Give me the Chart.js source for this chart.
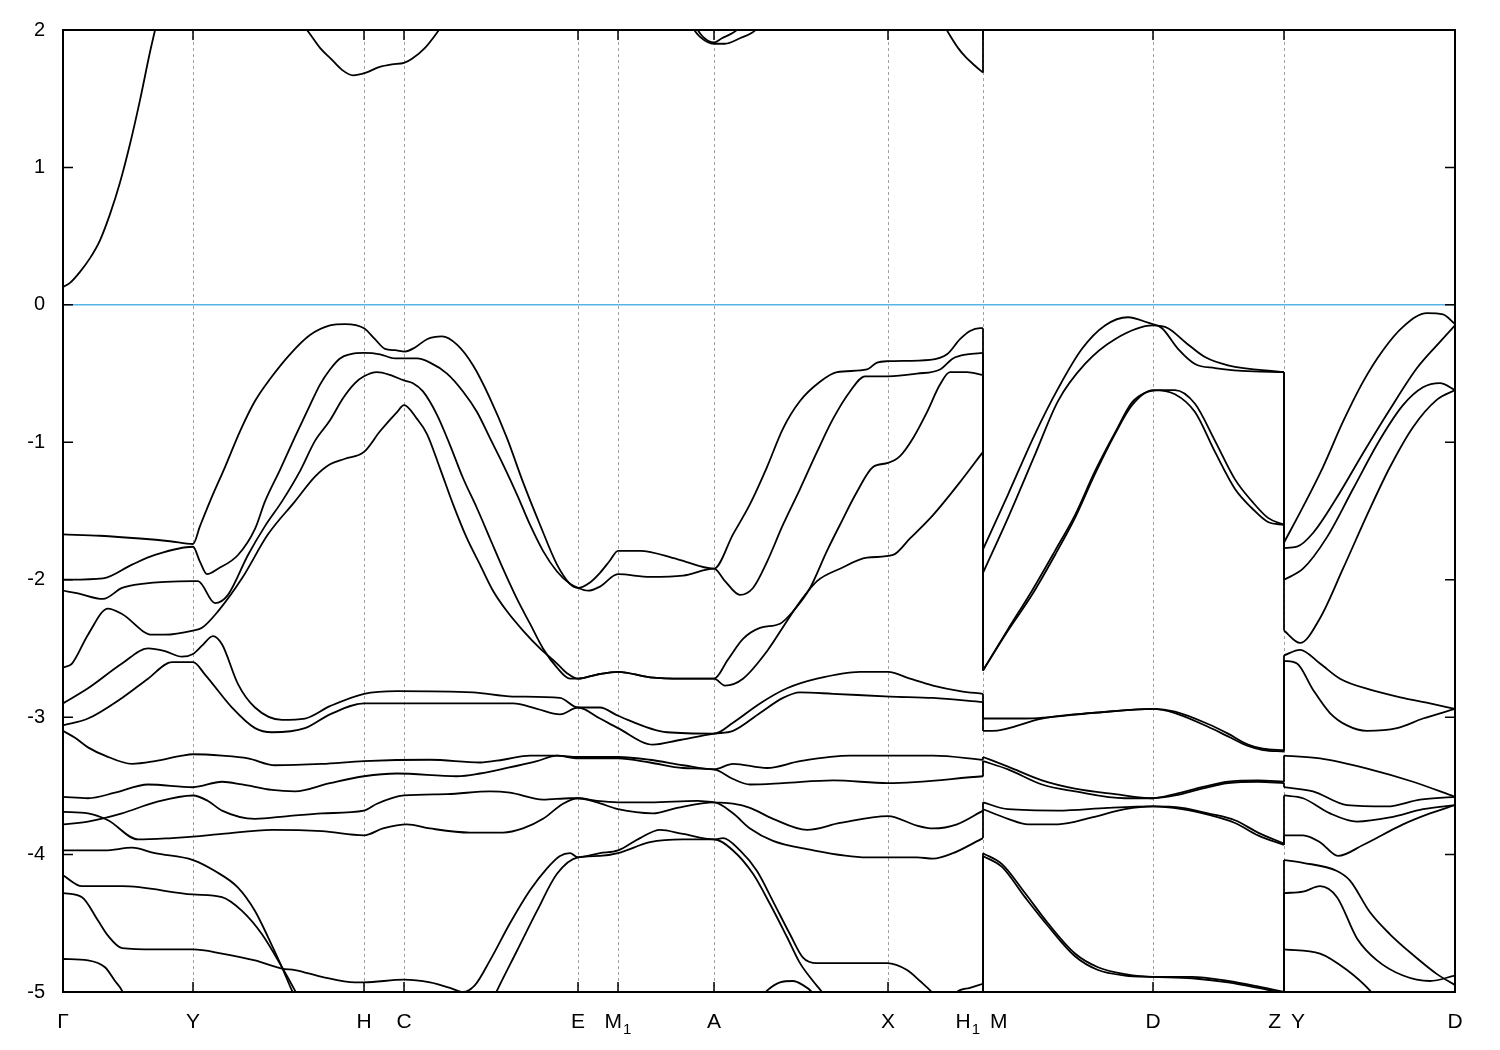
<!DOCTYPE html>
<html>
<head>
<meta charset="utf-8">
<title>Band structure</title>
<script src="https://cdn.jsdelivr.net/npm/chart.js@4.4.1/dist/chart.umd.min.js"></script>
<style>
  html, body { margin: 0; padding: 0; background: #ffffff; }
  #wrap { width: 1500px; height: 1050px; }
</style>
</head>
<body>
<div id="wrap"><canvas id="bands" width="1500" height="1050"></canvas></div>
<script>
// High-symmetry points along the k path
var kTicks = [0, 1.30, 3.01, 3.41, 5.15, 5.55, 6.51, 8.25, 9.20, 10.90, 12.21, 13.92];
var kLabels = [
  ['\u0393', '', 0, 'c'], ['Y', '', 1.30, 'c'], ['H', '', 3.01, 'c'], ['C', '', 3.41, 'c'],
  ['E', '', 5.15, 'c'], ['M', '1', 5.55, 'c'], ['A', '', 6.51, 'c'], ['X', '', 8.25, 'c'],
  ['H', '1', 9.20, 'r'], ['M', '', 9.20, 'l'], ['D', '', 10.90, 'c'],
  ['Z', '', 12.21, 'r'], ['Y', '', 12.21, 'l'], ['D', '', 13.92, 'c']
];
var energyTicks = [-5, -4, -3, -2, -1, 0, 1, 2];
var fermiLevel = 0;

// Conduction bands (Gamma ... H1 segment), [k, E]
var c1 = [[0,0.13],[0.07,0.16],[0.17,0.24],[0.27,0.34],[0.37,0.47],[0.47,0.66],[0.57,0.89],[0.67,1.17],[0.77,1.49],[0.87,1.84],[0.94,2.06]];
var c2 = [[2.37,2.06],[2.44,2.0],[2.57,1.87],[2.68,1.79],[2.79,1.71],[2.90,1.67],[3.03,1.69],[3.16,1.73],[3.29,1.75],[3.41,1.76],[3.49,1.79],[3.62,1.87],[3.76,2.0],[3.82,2.06]];
var c3a = [[6.27,2.04],[6.37,1.95],[6.51,1.90],[6.62,1.90],[6.77,1.94],[6.89,1.98],[6.99,2.04]];
var c3b = [[6.31,2.04],[6.40,1.95],[6.51,1.91],[6.59,1.94],[6.70,1.98],[6.81,2.04]];
var c4 = [[8.79,2.06],[8.87,1.96],[8.95,1.87],[9.03,1.80],[9.12,1.74],[9.20,1.69]];
var c4_2 = [[9.20,2.30]]; // same band at M lies above the window

// Valence bands, segment Gamma - Y - H - C - E - M1 - A - X - H1
var v1_1 = [[0,-1.67],[0.37,-1.68],[0.77,-1.70],[1.07,-1.72],[1.30,-1.74],[1.37,-1.61],[1.47,-1.43],[1.62,-1.18],[1.77,-0.92],[1.92,-0.70],[2.07,-0.54],[2.27,-0.36],[2.47,-0.22],[2.67,-0.15],[2.82,-0.14],[3.01,-0.17],[3.12,-0.25],[3.22,-0.32],[3.32,-0.33],[3.42,-0.34],[3.52,-0.31],[3.64,-0.25],[3.79,-0.23],[3.94,-0.29],[4.10,-0.44],[4.27,-0.68],[4.44,-0.97],[4.60,-1.29],[4.77,-1.60],[4.94,-1.89],[5.07,-2.03],[5.15,-2.06],[5.27,-2.02],[5.37,-1.95],[5.47,-1.86],[5.55,-1.79],[5.77,-1.79],[6.14,-1.85],[6.51,-1.92],[6.70,-1.67],[6.87,-1.45],[7.04,-1.18],[7.20,-0.90],[7.37,-0.70],[7.57,-0.56],[7.74,-0.49],[8.04,-0.47],[8.14,-0.42],[8.25,-0.41],[8.67,-0.40],[8.84,-0.36],[8.97,-0.25],[9.07,-0.19],[9.17,-0.17],[9.20,-0.17]];
var v2_1 = [[0,-2.00],[0.40,-1.99],[0.69,-1.89],[0.92,-1.82],[1.30,-1.76],[1.37,-1.87],[1.44,-1.96],[1.55,-1.92],[1.75,-1.82],[1.92,-1.63],[2.02,-1.43],[2.17,-1.20],[2.32,-0.96],[2.47,-0.73],[2.57,-0.58],[2.67,-0.47],[2.77,-0.39],[2.87,-0.36],[3.01,-0.35],[3.17,-0.36],[3.32,-0.39],[3.54,-0.39],[3.67,-0.42],[3.84,-0.50],[4.00,-0.63],[4.14,-0.78],[4.27,-0.97],[4.40,-1.16],[4.54,-1.38],[4.67,-1.60],[4.80,-1.79],[4.94,-1.94],[5.07,-2.03],[5.15,-2.06],[5.25,-2.08],[5.37,-2.05],[5.55,-1.96],[5.87,-1.98],[6.20,-1.97],[6.51,-1.92],[6.62,-2.01],[6.77,-2.11],[6.90,-2.06],[7.04,-1.87],[7.20,-1.60],[7.37,-1.34],[7.54,-1.07],[7.70,-0.83],[7.87,-0.63],[8.02,-0.52],[8.25,-0.52],[8.54,-0.50],[8.77,-0.47],[8.90,-0.39],[9.04,-0.36],[9.20,-0.35]];
var v3_1 = [[0,-2.08],[0.15,-2.10],[0.40,-2.14],[0.59,-2.06],[0.79,-2.03],[1.30,-2.01],[1.35,-2.01],[1.52,-2.17],[1.65,-2.11],[1.85,-1.82],[2.02,-1.61],[2.19,-1.43],[2.37,-1.21],[2.52,-0.99],[2.67,-0.84],[2.80,-0.68],[2.92,-0.57],[3.01,-0.52],[3.14,-0.49],[3.27,-0.51],[3.41,-0.55],[3.50,-0.57],[3.60,-0.63],[3.74,-0.80],[3.87,-1.02],[4.00,-1.26],[4.14,-1.48],[4.27,-1.70],[4.40,-1.92],[4.54,-2.14],[4.67,-2.32],[4.80,-2.50],[4.94,-2.64],[5.07,-2.72],[5.15,-2.72],[5.34,-2.69],[5.55,-2.67],[5.87,-2.71],[6.20,-2.72],[6.51,-2.72],[6.65,-2.58],[6.80,-2.43],[6.97,-2.35],[7.17,-2.32],[7.30,-2.23],[7.47,-2.06],[7.64,-1.79],[7.77,-1.60],[7.94,-1.36],[8.10,-1.18],[8.25,-1.15],[8.37,-1.10],[8.50,-0.97],[8.64,-0.78],[8.77,-0.58],[8.87,-0.49],[9.04,-0.49],[9.20,-0.51]];
var v4_1 = [[0,-2.64],[0.09,-2.61],[0.25,-2.40],[0.45,-2.21],[0.59,-2.25],[0.89,-2.40],[1.02,-2.40],[1.30,-2.37],[1.39,-2.35],[1.55,-2.23],[1.79,-1.99],[2.05,-1.67],[2.32,-1.43],[2.52,-1.25],[2.67,-1.16],[2.82,-1.12],[3.01,-1.07],[3.17,-0.92],[3.34,-0.78],[3.41,-0.73],[3.54,-0.83],[3.64,-0.94],[3.77,-1.19],[3.90,-1.45],[4.04,-1.70],[4.17,-1.89],[4.30,-2.08],[4.44,-2.23],[4.60,-2.37],[4.77,-2.50],[4.94,-2.61],[5.04,-2.68],[5.15,-2.72],[5.34,-2.69],[5.55,-2.67],[5.87,-2.71],[6.20,-2.72],[6.51,-2.72],[6.62,-2.77],[6.80,-2.72],[7.04,-2.52],[7.24,-2.30],[7.37,-2.16],[7.54,-2.01],[7.77,-1.92],[8.04,-1.84],[8.30,-1.82],[8.47,-1.70],[8.70,-1.53],[8.97,-1.29],[9.20,-1.07]];
var v5_1 = [[0,-2.90],[0.25,-2.79],[0.59,-2.61],[0.85,-2.50],[1.02,-2.52],[1.19,-2.56],[1.30,-2.54],[1.39,-2.48],[1.50,-2.41],[1.59,-2.47],[1.75,-2.76],[1.92,-2.93],[2.19,-3.02],[2.42,-3.01],[2.67,-2.92],[3.01,-2.83],[3.34,-2.81],[4.10,-2.82],[4.50,-2.85],[4.97,-2.86],[5.15,-2.93],[5.37,-2.93],[5.55,-2.99],[6.04,-3.11],[6.51,-3.12],[6.70,-3.04],[6.97,-2.90],[7.24,-2.79],[7.54,-2.72],[7.97,-2.67],[8.25,-2.67],[8.47,-2.72],[8.70,-2.77],[8.97,-2.81],[9.20,-2.83]];
var v6_1 = [[0,-3.06],[0.25,-3.01],[0.59,-2.86],[0.85,-2.72],[1.09,-2.60],[1.30,-2.60],[1.42,-2.69],[1.69,-2.93],[1.92,-3.08],[2.09,-3.11],[2.42,-3.08],[2.67,-2.98],[3.01,-2.90],[3.34,-2.90],[4.50,-2.90],[4.74,-2.94],[4.97,-2.98],[5.15,-2.93],[5.37,-3.01],[5.55,-3.08],[5.90,-3.20],[6.14,-3.17],[6.51,-3.12],[6.70,-3.10],[6.97,-2.97],[7.20,-2.86],[7.37,-2.82],[7.70,-2.83],[8.27,-2.85],[8.70,-2.86],[9.20,-2.89]];
var v7_1 = [[0,-3.10],[0.12,-3.15],[0.25,-3.22],[0.42,-3.28],[0.69,-3.34],[0.92,-3.32],[1.19,-3.28],[1.30,-3.27],[1.59,-3.28],[1.85,-3.30],[2.12,-3.35],[2.59,-3.34],[3.01,-3.32],[3.67,-3.31],[4.17,-3.33],[4.40,-3.31],[4.67,-3.28],[4.94,-3.28],[5.15,-3.29],[5.55,-3.29],[5.87,-3.31],[6.20,-3.35],[6.51,-3.38],[6.70,-3.34],[7.04,-3.37],[7.37,-3.32],[7.87,-3.28],[8.70,-3.28],[9.20,-3.31]];
var v8_1 = [[0,-3.58],[0.25,-3.59],[0.52,-3.55],[0.85,-3.49],[1.30,-3.51],[1.59,-3.47],[1.79,-3.49],[2.09,-3.53],[2.32,-3.54],[2.67,-3.48],[3.01,-3.43],[3.34,-3.41],[3.94,-3.43],[4.17,-3.41],[4.44,-3.37],[4.74,-3.32],[4.94,-3.28],[5.15,-3.30],[5.55,-3.30],[5.87,-3.33],[6.20,-3.37],[6.51,-3.38],[6.70,-3.45],[6.87,-3.49],[7.20,-3.48],[7.70,-3.46],[8.25,-3.48],[9.20,-3.43]];
var v9b_1 = [[0,-3.78],[0.25,-3.76],[0.59,-3.70],[0.92,-3.62],[1.30,-3.57],[1.45,-3.61],[1.59,-3.68],[1.92,-3.74],[2.25,-3.72],[2.59,-3.70],[3.01,-3.68],[3.14,-3.63],[3.41,-3.57],[3.84,-3.56],[4.27,-3.54],[4.47,-3.55],[4.80,-3.60],[5.07,-3.59],[5.15,-3.59],[5.34,-3.61],[5.55,-3.62],[5.87,-3.62],[6.34,-3.61],[6.51,-3.62],[6.70,-3.63],[6.87,-3.66],[7.10,-3.74],[7.44,-3.82],[7.77,-3.77],[8.25,-3.72],[8.54,-3.79],[8.70,-3.81],[8.94,-3.78],[9.20,-3.68]];
var v9a_1 = [[0,-3.69],[0.25,-3.70],[0.45,-3.75],[0.75,-3.89],[1.09,-3.88],[1.30,-3.87],[1.59,-3.85],[2.09,-3.82],[2.59,-3.83],[3.01,-3.86],[3.20,-3.81],[3.44,-3.78],[3.67,-3.81],[4.07,-3.84],[4.40,-3.84],[4.60,-3.81],[4.80,-3.74],[5.00,-3.63],[5.15,-3.59],[5.34,-3.62],[5.55,-3.67],[5.90,-3.70],[6.14,-3.66],[6.51,-3.62],[6.70,-3.70],[6.87,-3.81],[7.10,-3.90],[7.44,-3.96],[8.04,-4.02],[8.54,-4.02],[8.70,-4.03],[8.90,-3.99],[9.20,-3.88]];
var v10_1 = [[0,-3.97],[0.42,-3.97],[0.69,-3.95],[0.92,-3.99],[1.30,-4.04],[1.52,-4.12],[1.75,-4.24],[1.92,-4.41],[2.05,-4.60],[2.19,-4.82],[2.29,-4.99],[2.39,-5.13],[3.37,-5.57],[4.25,-5.13],[4.34,-4.99],[4.54,-4.70],[4.74,-4.41],[4.94,-4.14],[5.15,-4.02],[5.37,-4.01],[5.55,-3.99],[5.87,-3.91],[6.20,-3.89],[6.51,-3.89],[6.70,-3.97],[6.90,-4.14],[7.07,-4.36],[7.24,-4.60],[7.37,-4.79],[7.50,-4.92],[7.60,-5.01],[7.70,-5.13],[8.37,-5.57],[9.20,-5.64]];
var v11_1 = [[0,-4.15],[0.19,-4.23],[0.59,-4.23],[1.30,-4.29],[1.59,-4.31],[1.79,-4.41],[1.99,-4.58],[2.19,-4.82],[2.32,-4.99],[2.42,-5.13],[4.37,-5.79],[6.87,-5.13],[7.04,-4.99],[7.17,-4.93],[7.30,-4.92],[7.40,-4.95],[7.49,-5.00],[7.62,-5.13],[8.37,-5.50],[8.82,-5.13],[8.94,-5.00],[9.07,-4.97],[9.20,-4.94]];
var v12_1 = [[0,-4.28],[0.19,-4.31],[0.35,-4.48],[0.45,-4.59],[0.59,-4.68],[0.92,-4.69],[1.30,-4.69],[1.59,-4.72],[1.92,-4.77],[2.19,-4.83],[2.32,-4.84],[2.59,-4.89],[2.92,-4.93],[3.01,-4.93],[3.41,-4.91],[3.67,-4.93],[3.87,-4.97],[4.00,-5.00],[4.12,-4.95],[4.27,-4.77],[4.47,-4.50],[4.67,-4.26],[4.84,-4.10],[4.97,-4.01],[5.07,-3.99],[5.15,-4.02],[5.37,-3.99],[5.55,-3.97],[5.77,-3.88],[5.97,-3.82],[6.20,-3.85],[6.51,-3.89],[6.60,-3.88],[6.77,-3.97],[6.94,-4.12],[7.10,-4.34],[7.27,-4.58],[7.40,-4.75],[7.54,-4.79],[8.24,-4.79],[8.44,-4.84],[8.57,-4.92],[8.70,-5.01],[8.82,-5.13],[9.20,-5.42]];
var v13_1 = [[0,-4.76],[0.25,-4.77],[0.42,-4.82],[0.52,-4.92],[0.59,-4.99],[0.67,-5.13],[1.37,-5.50]];

// Segment M - D - Z
var a_2 = [[9.20,-1.78],[9.45,-1.38],[9.72,-0.94],[9.95,-0.61],[10.19,-0.32],[10.42,-0.15],[10.65,-0.09],[10.85,-0.13],[10.99,-0.17],[11.15,-0.32],[11.32,-0.43],[11.52,-0.46],[11.79,-0.48],[12.21,-0.49]];
var b_2 = [[9.20,-1.95],[9.45,-1.55],[9.72,-1.09],[9.95,-0.70],[10.22,-0.43],[10.52,-0.25],[10.90,-0.15],[11.05,-0.17],[11.22,-0.27],[11.42,-0.38],[11.65,-0.44],[12.21,-0.49]];
var c_2 = [[9.20,-2.66],[9.45,-2.37],[9.69,-2.11],[9.92,-1.82],[10.12,-1.55],[10.32,-1.23],[10.52,-0.94],[10.69,-0.73],[10.90,-0.62],[11.12,-0.65],[11.32,-0.78],[11.52,-1.07],[11.72,-1.34],[11.89,-1.48],[12.05,-1.58],[12.21,-1.60]];
var d_2 = [[9.20,-2.66],[9.45,-2.36],[9.69,-2.08],[9.92,-1.79],[10.12,-1.53],[10.32,-1.21],[10.52,-0.93],[10.69,-0.71],[10.82,-0.64],[10.97,-0.62],[11.12,-0.62],[11.32,-0.72],[11.52,-0.99],[11.72,-1.27],[11.89,-1.43],[12.05,-1.55],[12.21,-1.60]];
var e_2 = [[9.20,-3.01],[9.62,-3.01],[10.29,-2.97],[10.90,-2.94],[11.12,-2.96],[11.45,-3.05],[11.65,-3.12],[11.85,-3.20],[12.00,-3.23],[12.21,-3.24]];
var f_2 = [[9.20,-3.10],[9.29,-3.10],[9.79,-3.01],[10.45,-2.96],[10.90,-2.94],[11.12,-2.97],[11.45,-3.07],[11.65,-3.14],[11.85,-3.21],[12.00,-3.24],[12.21,-3.25]];
var p_2 = [[9.20,-3.29],[9.45,-3.36],[9.79,-3.46],[10.12,-3.52],[10.52,-3.56],[10.90,-3.59],[11.12,-3.56],[11.39,-3.51],[11.65,-3.47],[11.95,-3.46],[12.21,-3.47]];
var q_2 = [[9.20,-3.32],[9.45,-3.38],[9.79,-3.49],[10.12,-3.54],[10.62,-3.59],[10.90,-3.59],[11.12,-3.57],[11.39,-3.52],[11.65,-3.48],[11.95,-3.47],[12.21,-3.48]];
var r_2 = [[9.20,-3.62],[9.45,-3.67],[9.95,-3.68],[10.45,-3.66],[10.90,-3.65],[11.19,-3.67],[11.45,-3.71],[11.72,-3.77],[11.95,-3.86],[12.21,-3.93]];
var s_2 = [[9.20,-3.67],[9.45,-3.74],[9.65,-3.78],[9.95,-3.78],[10.29,-3.73],[10.62,-3.67],[10.90,-3.65],[11.19,-3.66],[11.45,-3.70],[11.72,-3.75],[11.95,-3.84],[12.21,-3.92]];
var t_2 = [[9.20,-3.99],[9.39,-4.07],[9.62,-4.28],[9.85,-4.50],[10.12,-4.72],[10.35,-4.82],[10.62,-4.87],[10.90,-4.89],[11.29,-4.89],[11.65,-4.92],[11.95,-4.96],[12.21,-5.00]];
var u_2 = [[9.20,-4.01],[9.39,-4.09],[9.62,-4.31],[9.85,-4.52],[10.12,-4.74],[10.35,-4.84],[10.62,-4.88],[10.90,-4.89],[11.29,-4.90],[11.65,-4.93],[11.95,-4.97],[12.21,-5.01]];

// Segment Y - D
var a_3 = [[12.21,-1.73],[12.40,-1.47],[12.60,-1.18],[12.80,-0.85],[13.00,-0.56],[13.20,-0.33],[13.40,-0.16],[13.64,-0.06],[13.80,-0.07],[13.92,-0.14]];
var b_3 = [[12.21,-1.77],[12.34,-1.76],[12.50,-1.66],[12.74,-1.40],[13.00,-1.08],[13.27,-0.76],[13.54,-0.46],[13.77,-0.27],[13.92,-0.15]];
var c_3 = [[12.21,-2.00],[12.40,-1.92],[12.64,-1.69],[12.90,-1.34],[13.17,-0.98],[13.40,-0.73],[13.60,-0.60],[13.77,-0.57],[13.92,-0.62]];
var d_3 = [[12.21,-2.37],[12.37,-2.46],[12.57,-2.28],[12.80,-1.92],[13.04,-1.53],[13.27,-1.18],[13.50,-0.89],[13.74,-0.69],[13.92,-0.62]];
var e_3 = [[12.21,-2.55],[12.37,-2.51],[12.57,-2.61],[12.77,-2.72],[13.07,-2.80],[13.40,-2.86],[13.67,-2.90],[13.92,-2.94]];
var f_3 = [[12.21,-2.59],[12.34,-2.61],[12.50,-2.80],[12.67,-2.97],[12.84,-3.06],[13.04,-3.10],[13.34,-3.08],[13.60,-3.01],[13.92,-2.94]];
var p_3 = [[12.21,-3.28],[12.57,-3.30],[13.07,-3.38],[13.50,-3.47],[13.92,-3.58]];
var q_3 = [[12.21,-3.51],[12.50,-3.54],[12.84,-3.64],[13.24,-3.65],[13.57,-3.60],[13.92,-3.58]];
var r_3 = [[12.21,-3.57],[12.40,-3.59],[12.67,-3.70],[12.94,-3.76],[13.27,-3.73],[13.60,-3.67],[13.92,-3.64]];
var s_3 = [[12.21,-3.86],[12.40,-3.86],[12.57,-3.91],[12.75,-4.01],[13.00,-3.93],[13.40,-3.78],[13.67,-3.70],[13.92,-3.64]];
var t_3 = [[12.21,-4.04],[12.40,-4.06],[12.74,-4.12],[12.87,-4.19],[13.07,-4.42],[13.27,-4.58],[13.50,-4.73],[13.74,-4.87],[13.92,-4.95]];
var u_3 = [[12.21,-4.28],[12.40,-4.27],[12.57,-4.23],[12.74,-4.31],[12.94,-4.61],[13.14,-4.77],[13.40,-4.88],[13.67,-4.92],[13.92,-4.88]];
var w_3 = [[12.21,-4.69],[12.57,-4.72],[12.84,-4.84],[13.07,-4.99],[13.22,-5.13]];

// each band is drawn segment by segment, joined by vertical jumps at the path breaks
var bandChains = [
  [c1], [c2], [c3a], [c3b], [c4, c4_2],
  [v1_1, a_2, a_3], [v2_1, b_2, b_3], [v3_1, c_2, c_3], [v4_1, d_2, d_3],
  [v5_1, e_2, e_3], [v6_1, f_2, f_3], [v7_1, p_2, p_3], [v8_1, q_2, q_3],
  [v9b_1, r_2, r_3], [v9a_1, s_2, s_3], [v11_1, t_2, t_3], [v10_1, u_2, u_3],
  [v12_1], [v13_1], [w_3]
];

function toPoints(seg) {
  return seg.map(function(p) { return { x: p[0], y: p[1] }; });
}

function lineSet(seg, smooth) {
  return {
    data: toPoints(seg),
    showLine: true,
    borderColor: '#000000',
    borderWidth: 1.8,
    pointRadius: 0,
    pointHoverRadius: 0,
    fill: false,
    cubicInterpolationMode: smooth ? 'monotone' : 'default',
    tension: 0
  };
}

var datasets = [];
bandChains.forEach(function(chain) {
  var prev = null;
  chain.forEach(function(seg) {
    if (prev) datasets.push(lineSet([prev[prev.length - 1], seg[0]], false));
    if (seg.length > 1) datasets.push(lineSet(seg, true));
    prev = seg;
  });
});

var bandDecor = {
  id: 'bandDecor',
  beforeDatasetsDraw: function(chart) {
    var ctx = chart.ctx, a = chart.chartArea;
    var xs = chart.scales.x, ys = chart.scales.y;
    ctx.save();
    ctx.strokeStyle = '#a0a0a0';
    ctx.lineWidth = 1;
    ctx.setLineDash([3, 3]);
    kTicks.slice(1, -1).forEach(function(k) {
      var px = Math.round(xs.getPixelForValue(k)) + 0.5;
      ctx.beginPath();
      ctx.moveTo(px, a.top);
      ctx.lineTo(px, a.bottom);
      ctx.stroke();
    });
    ctx.setLineDash([]);
    ctx.strokeStyle = '#56b4e9';
    ctx.lineWidth = 1.5;
    var py = ys.getPixelForValue(fermiLevel);
    ctx.beginPath();
    ctx.moveTo(a.left, py);
    ctx.lineTo(a.right, py);
    ctx.stroke();
    ctx.restore();
  },
  afterDatasetsDraw: function(chart) {
    var ctx = chart.ctx, a = chart.chartArea;
    var xs = chart.scales.x, ys = chart.scales.y;
    ctx.save();
    ctx.strokeStyle = '#000000';
    ctx.lineWidth = 1.5;
    // inward ticks
    kTicks.slice(1, -1).forEach(function(k) {
      var px = xs.getPixelForValue(k);
      ctx.beginPath();
      ctx.moveTo(px, a.bottom); ctx.lineTo(px, a.bottom - 10);
      ctx.moveTo(px, a.top); ctx.lineTo(px, a.top + 10);
      ctx.stroke();
    });
    energyTicks.slice(1, -1).forEach(function(e) {
      var py = ys.getPixelForValue(e);
      ctx.beginPath();
      ctx.moveTo(a.left, py); ctx.lineTo(a.left + 10, py);
      ctx.moveTo(a.right, py); ctx.lineTo(a.right - 10, py);
      ctx.stroke();
    });
    ctx.lineWidth = 2;
    ctx.strokeRect(a.left, a.top, a.right - a.left, a.bottom - a.top);

    // k-point labels with subscripts
    ctx.fillStyle = '#000000';
    ctx.textBaseline = 'alphabetic';
    ctx.textAlign = 'left';
    var mainFont = '21px "Liberation Sans", Arial, sans-serif';
    var subFont = '15px "Liberation Sans", Arial, sans-serif';
    var base = a.bottom + 36;
    kLabels.forEach(function(it) {
      ctx.font = mainFont;
      var wMain = ctx.measureText(it[0]).width;
      ctx.font = subFont;
      var wSub = it[1] ? ctx.measureText(it[1]).width + 1 : 0;
      var total = wMain + wSub;
      var px = xs.getPixelForValue(it[2]);
      var start;
      if (it[3] === 'r') start = px - 3 - total;
      else if (it[3] === 'l') start = px + 7;
      else start = px - total / 2;
      ctx.font = mainFont;
      ctx.fillText(it[0], start, base);
      if (it[1]) {
        ctx.font = subFont;
        ctx.fillText(it[1], start + wMain + 1, base + 6);
      }
    });
    ctx.restore();
  }
};

Chart.defaults.font.family = '"Liberation Sans", Arial, sans-serif';
Chart.defaults.color = '#000000';

new Chart(document.getElementById('bands'), {
  type: 'scatter',
  data: { datasets: datasets },
  options: {
    responsive: false,
    animation: false,
    devicePixelRatio: 1,
    layout: { padding: { left: 0, right: 45, top: 28, bottom: 0 } },
    plugins: { legend: { display: false }, tooltip: { enabled: false } },
    events: [],
    scales: {
      x: {
        type: 'linear',
        min: 0,
        max: 13.92,
        grid: { display: false },
        border: { display: false },
        ticks: { display: false },
        afterFit: function(scale) { scale.height = 58; }
      },
      y: {
        min: -5,
        max: 2,
        grid: { display: false, drawTicks: false },
        border: { display: false },
        ticks: {
          stepSize: 1,
          padding: 18,
          color: '#000000',
          font: { size: 20 }
        },
        afterFit: function(scale) { scale.width = 63; }
      }
    }
  },
  plugins: [bandDecor]
});
</script>
</body>
</html>
